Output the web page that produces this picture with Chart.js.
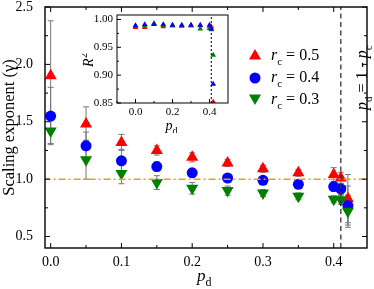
<!DOCTYPE html>
<html>
<head>
<meta charset="utf-8">
<script src="https://cdn.jsdelivr.net/npm/chart.js@4.4.0/dist/chart.umd.min.js"></script>
<style>
  body { margin: 0; background: #fff; }
  #wrap { position: relative; width: 374px; height: 289px; }
  #inset { position: absolute; left: 82px; top: 10px; }
</style>
</head>
<body>
<div id="wrap">
  <canvas id="main" width="374" height="289"></canvas>
  <canvas id="inset" width="150" height="123"></canvas>
</div>
<script>
// p_d values shared by every series
const pdValues = [0, 0.05, 0.1, 0.15, 0.2, 0.25, 0.3, 0.35, 0.4, 0.41, 0.42];

// scaling exponent gamma, with error bars
const gammaRc05 = [1.90, 1.48, 1.32, 1.25, 1.19, 1.14, 1.09, 1.055, 1.04, 1.01, 0.83];
const gammaRc04 = [1.55, 1.29, 1.16, 1.11, 1.055, 1.01, 0.99, 0.955, 0.935, 0.915, 0.77];
const gammaRc03 = [1.42, 1.17, 1.05, 0.97, 0.92, 0.90, 0.88, 0.85, 0.825, 0.82, 0.72];
const errRc05 = [0.48, 0.15, 0.07, 0.04, 0.04, 0.03, 0.03, 0.03, 0.06, 0.05, 0.21];
const errRc04 = [0.25, 0.12, 0.10, 0.04, 0.03, 0.03, 0.03, 0.03, 0.04, 0.05, 0.17];
const errRc03 = [0.11, 0.17, 0.09, 0.06, 0.05, 0.04, 0.03, 0.03, 0.03, 0.04, 0.14];

// inset: R^2 of the fits
const r2Rc05 = [0.986, 0.986, 0.991, 0.987, 0.989, 0.989, 0.989, 0.989, 0.988, 0.987, 0.852];
const r2Rc04 = [0.989, 0.991, 0.991, 0.991, 0.990, 0.990, 0.990, 0.990, 0.990, 0.983, 0.884];
const r2Rc03 = [0.988, 0.989, 0.993, 0.990, 0.989, 0.988, 0.989, 0.983, 0.984, 0.982, 0.936];

const legendLabels = ['0.5', '0.4', '0.3'];
const criticalPd = 0.41;
const refGamma = 1.0;

const xTicksMain = [0, 0.1, 0.2, 0.3, 0.4];
const yTicksMain = [0.5, 1.0, 1.5, 2.0, 2.5];
const xTicksInset = [0, 0.2, 0.4];
const yTicksInset = [0.85, 0.90, 0.95, 1.00];

const SERIF = "'Liberation Serif', 'DejaVu Serif', serif";
const RED = '#ff0000', BLUE = '#0000ff', GREEN = '#008000';

const pts = (ys) => pdValues.map((x, i) => ({ x: x, y: ys[i] }));

function range(a, b, step) {
  const out = [];
  for (let v = a; v <= b + 1e-9; v += step) out.push(+v.toFixed(4));
  return out;
}

// error bars drawn through the scales
const errorBars = {
  id: 'errorBars',
  beforeDatasetsDraw(chart) {
    const ctx = chart.ctx;
    const xs = chart.scales.x, ys = chart.scales.y;
    ctx.save();
    ctx.strokeStyle = '#777';
    ctx.lineWidth = 1;
    chart.data.datasets.forEach(ds => {
      if (!ds.errors) return;
      ds.data.forEach((p, i) => {
        const e = ds.errors[i];
        const px = xs.getPixelForValue(p.x);
        const top = ys.getPixelForValue(p.y + e);
        const bot = ys.getPixelForValue(p.y - e);
        ctx.beginPath();
        ctx.moveTo(px, top); ctx.lineTo(px, bot);
        ctx.moveTo(px - 3, top); ctx.lineTo(px + 3, top);
        ctx.moveTo(px - 3, bot); ctx.lineTo(px + 3, bot);
        ctx.stroke();
      });
    });
    ctx.restore();
  }
};

// box frame with inward ticks on all four sides
const frameTicks = {
  id: 'frameTicks',
  afterDraw(chart, args, opts) {
    const ctx = chart.ctx, a = chart.chartArea;
    const xs = chart.scales.x, ys = chart.scales.y;
    ctx.save();
    ctx.strokeStyle = '#000';
    ctx.lineWidth = opts.lw || 1.3;
    ctx.strokeRect(a.left, a.top, a.right - a.left, a.bottom - a.top);
    ctx.lineWidth = 1;
    ctx.beginPath();
    const tick = (vals, len, isX) => vals.forEach(v => {
      if (isX) {
        const p = xs.getPixelForValue(v);
        if (p < a.left || p > a.right) return;
        ctx.moveTo(p, a.bottom); ctx.lineTo(p, a.bottom - len);
        if (opts.mirror) { ctx.moveTo(p, a.top); ctx.lineTo(p, a.top + len); }
      } else {
        const p = ys.getPixelForValue(v);
        if (p < a.top - 0.5 || p > a.bottom + 0.5) return;
        ctx.moveTo(a.left, p); ctx.lineTo(a.left + len, p);
        if (opts.mirror) { ctx.moveTo(a.right, p); ctx.lineTo(a.right - len, p); }
      }
    });
    tick(opts.xMajor, opts.major, true);
    tick(opts.xMinor, opts.minor, true);
    tick(opts.yMajor, opts.major, false);
    tick(opts.yMinor, opts.minor, false);
    ctx.stroke();
    ctx.restore();
  }
};

// draws "base" italic with a roman subscript, returns the width used
function subText(ctx, base, sub, x, y, size) {
  ctx.font = 'italic ' + size + 'px ' + SERIF;
  ctx.fillText(base, x, y);
  let w = ctx.measureText(base).width;
  ctx.font = Math.round(size * 0.68) + 'px ' + SERIF;
  ctx.fillText(sub, x + w, y + size * 0.3);
  return w + ctx.measureText(sub).width;
}

const mainLabels = {
  id: 'mainLabels',
  afterDraw(chart) {
    const ctx = chart.ctx, a = chart.chartArea;
    ctx.save();
    ctx.fillStyle = '#000';
    ctx.textBaseline = 'alphabetic';
    ctx.textAlign = 'left';
    // x title
    subText(ctx, 'p', 'd', (a.left + a.right) / 2 - 9, 281, 17);

    // legend
    const styles = [
      { pointStyle: 'triangle', radius: 7, rotation: 0, c: RED },
      { pointStyle: 'circle', radius: 5.5, rotation: 0, c: BLUE },
      { pointStyle: 'triangle', radius: 7, rotation: 180, c: GREEN }
    ];
    const rows = [55, 77, 99];
    styles.forEach((s, i) => {
      ctx.fillStyle = s.c; ctx.strokeStyle = s.c;
      Chart.helpers.drawPoint(ctx, { pointStyle: s.pointStyle, radius: s.radius, rotation: s.rotation, borderWidth: 0 }, 255, rows[i] + (s.rotation ? -1 : 1));
      ctx.fillStyle = '#000';
      const w = subText(ctx, 'r', 'c', 271, rows[i] + 5, 16);
      ctx.font = '16px ' + SERIF;
      ctx.fillText(' = ' + legendLabels[i], 271 + w, rows[i] + 5);
    });

    // vertical label for the critical line
    ctx.translate(367, 110);
    ctx.rotate(-Math.PI / 2);
    ctx.fillStyle = '#000';
    let w = subText(ctx, 'p', 'd', 0, 0, 16);
    ctx.font = '16px ' + SERIF;
    ctx.fillText(' = 1 - ', w, 0);
    w += ctx.measureText(' = 1 - ').width;
    subText(ctx, 'p', 'c', w, 0, 16);
    ctx.restore();
  }
};

const insetLabels = {
  id: 'insetLabels',
  afterDraw(chart) {
    const ctx = chart.ctx, a = chart.chartArea;
    ctx.save();
    ctx.fillStyle = '#000';
    subText(ctx, 'p', 'd', (a.left + a.right) / 2 - 7, 120, 14);
    ctx.translate(11, (a.top + a.bottom) / 2 + 8);
    ctx.rotate(-Math.PI / 2);
    ctx.font = 'italic 14px ' + SERIF;
    ctx.fillText('R', 0, 0);
    const w = ctx.measureText('R').width;
    ctx.font = '10px ' + SERIF;
    ctx.fillText('2', w + 0.5, -6);
    ctx.restore();
  }
};

function fixTicks(vals) {
  return (scale) => { scale.ticks = vals.map(v => ({ value: v })); };
}

new Chart(document.getElementById('main'), {
  type: 'scatter',
  data: {
    datasets: [
      {
        data: [{ x: -0.01, y: refGamma }, { x: 0.45, y: refGamma }],
        showLine: true, borderColor: '#f29a1f', borderWidth: 1.5,
        borderDash: [7, 3, 2, 3], pointRadius: 0
      },
      {
        data: [{ x: criticalPd, y: 0.4 }, { x: criticalPd, y: 2.5 }],
        showLine: true, borderColor: '#333', borderWidth: 1.3,
        borderDash: [5, 3.5], pointRadius: 0
      },
      {
        data: pts(gammaRc03), errors: errRc03,
        pointStyle: 'triangle', rotation: 180, pointRadius: 7,
        backgroundColor: GREEN, borderColor: GREEN, borderWidth: 0
      },
      {
        data: pts(gammaRc04), errors: errRc04,
        pointStyle: 'circle', pointRadius: 5.5,
        backgroundColor: BLUE, borderColor: BLUE, borderWidth: 0
      },
      {
        data: pts(gammaRc05), errors: errRc05,
        pointStyle: 'triangle', pointRadius: 7,
        backgroundColor: RED, borderColor: RED, borderWidth: 0
      }
    ]
  },
  options: {
    responsive: false,
    animation: false,
    devicePixelRatio: 1,
    layout: { padding: { top: 5, right: 1, left: 0, bottom: 0 } },
    plugins: {
      legend: { display: false },
      tooltip: { enabled: false },
      frameTicks: {
        mirror: true, major: 5, minor: 3, lw: 1.4,
        xMajor: xTicksMain, xMinor: range(0.05, 0.45, 0.1),
        yMajor: yTicksMain, yMinor: range(0.75, 2.25, 0.5)
      }
    },
    scales: {
      x: {
        type: 'linear', min: -0.008, max: 0.447,
        afterBuildTicks: fixTicks(xTicksMain),
        afterFit: (s) => { s.height = 41; s.paddingLeft = 0; s.paddingRight = 0; },
        grid: { display: false, drawTicks: false },
        border: { display: false },
        ticks: {
          padding: 6, color: '#000',
          font: { family: SERIF, size: 14 },
          callback: (v) => v.toFixed(1)
        }
      },
      y: {
        min: 0.4, max: 2.5,
        afterBuildTicks: fixTicks(yTicksMain),
        afterFit: (s) => { s.width = 45; s.paddingTop = 0; s.paddingBottom = 0; },
        grid: { display: false, drawTicks: false },
        border: { display: false },
        title: {
          display: true, text: 'Scaling exponent (\u03b3)', color: '#000',
          font: { family: SERIF, size: 16.5 }, padding: { top: 0, bottom: 0 }
        },
        ticks: {
          padding: 12, color: '#000',
          font: { family: SERIF, size: 14 },
          callback: (v) => v.toFixed(1)
        }
      }
    }
  },
  plugins: [errorBars, frameTicks, mainLabels]
});

new Chart(document.getElementById('inset'), {
  type: 'scatter',
  data: {
    datasets: [
      {
        data: [{ x: criticalPd, y: 0.85 }, { x: criticalPd, y: 1.008 }],
        showLine: true, borderColor: '#222', borderWidth: 1.2,
        borderDash: [2, 2], pointRadius: 0
      },
      { data: pts(r2Rc04), pointStyle: 'triangle', pointRadius: 3.3, backgroundColor: BLUE, borderWidth: 0 },
      { data: pts(r2Rc03), pointStyle: 'triangle', pointRadius: 3.3, backgroundColor: GREEN, borderWidth: 0 },
      { data: pts(r2Rc05), pointStyle: 'triangle', pointRadius: 3.3, backgroundColor: RED, borderWidth: 0 }
    ]
  },
  options: {
    responsive: false,
    animation: false,
    devicePixelRatio: 1,
    layout: { padding: { top: 5, right: 4, left: 0, bottom: 0 } },
    plugins: {
      legend: { display: false },
      tooltip: { enabled: false },
      frameTicks: {
        mirror: false, major: 4, minor: 2, lw: 1,
        xMajor: xTicksInset, xMinor: [-0.1, 0.1, 0.3],
        yMajor: yTicksInset, yMinor: [0.875, 0.925, 0.975]
      }
    },
    scales: {
      x: {
        type: 'linear', min: -0.1, max: 0.5,
        afterBuildTicks: fixTicks(xTicksInset),
        afterFit: (s) => { s.height = 30; s.paddingLeft = 0; s.paddingRight = 0; },
        grid: { display: false, drawTicks: false },
        border: { display: false },
        ticks: {
          padding: 3, color: '#000',
          font: { family: SERIF, size: 11 },
          callback: (v) => v.toFixed(1)
        }
      },
      y: {
        min: 0.85, max: 1.008,
        afterBuildTicks: fixTicks(yTicksInset),
        afterFit: (s) => { s.width = 35; s.paddingTop = 0; s.paddingBottom = 0; },
        grid: { display: false, drawTicks: false },
        border: { display: false },
        ticks: {
          padding: 4, color: '#000',
          font: { family: SERIF, size: 11 },
          callback: (v) => v.toFixed(2)
        }
      }
    }
  },
  plugins: [frameTicks, insetLabels]
});
</script>
</body>
</html>
